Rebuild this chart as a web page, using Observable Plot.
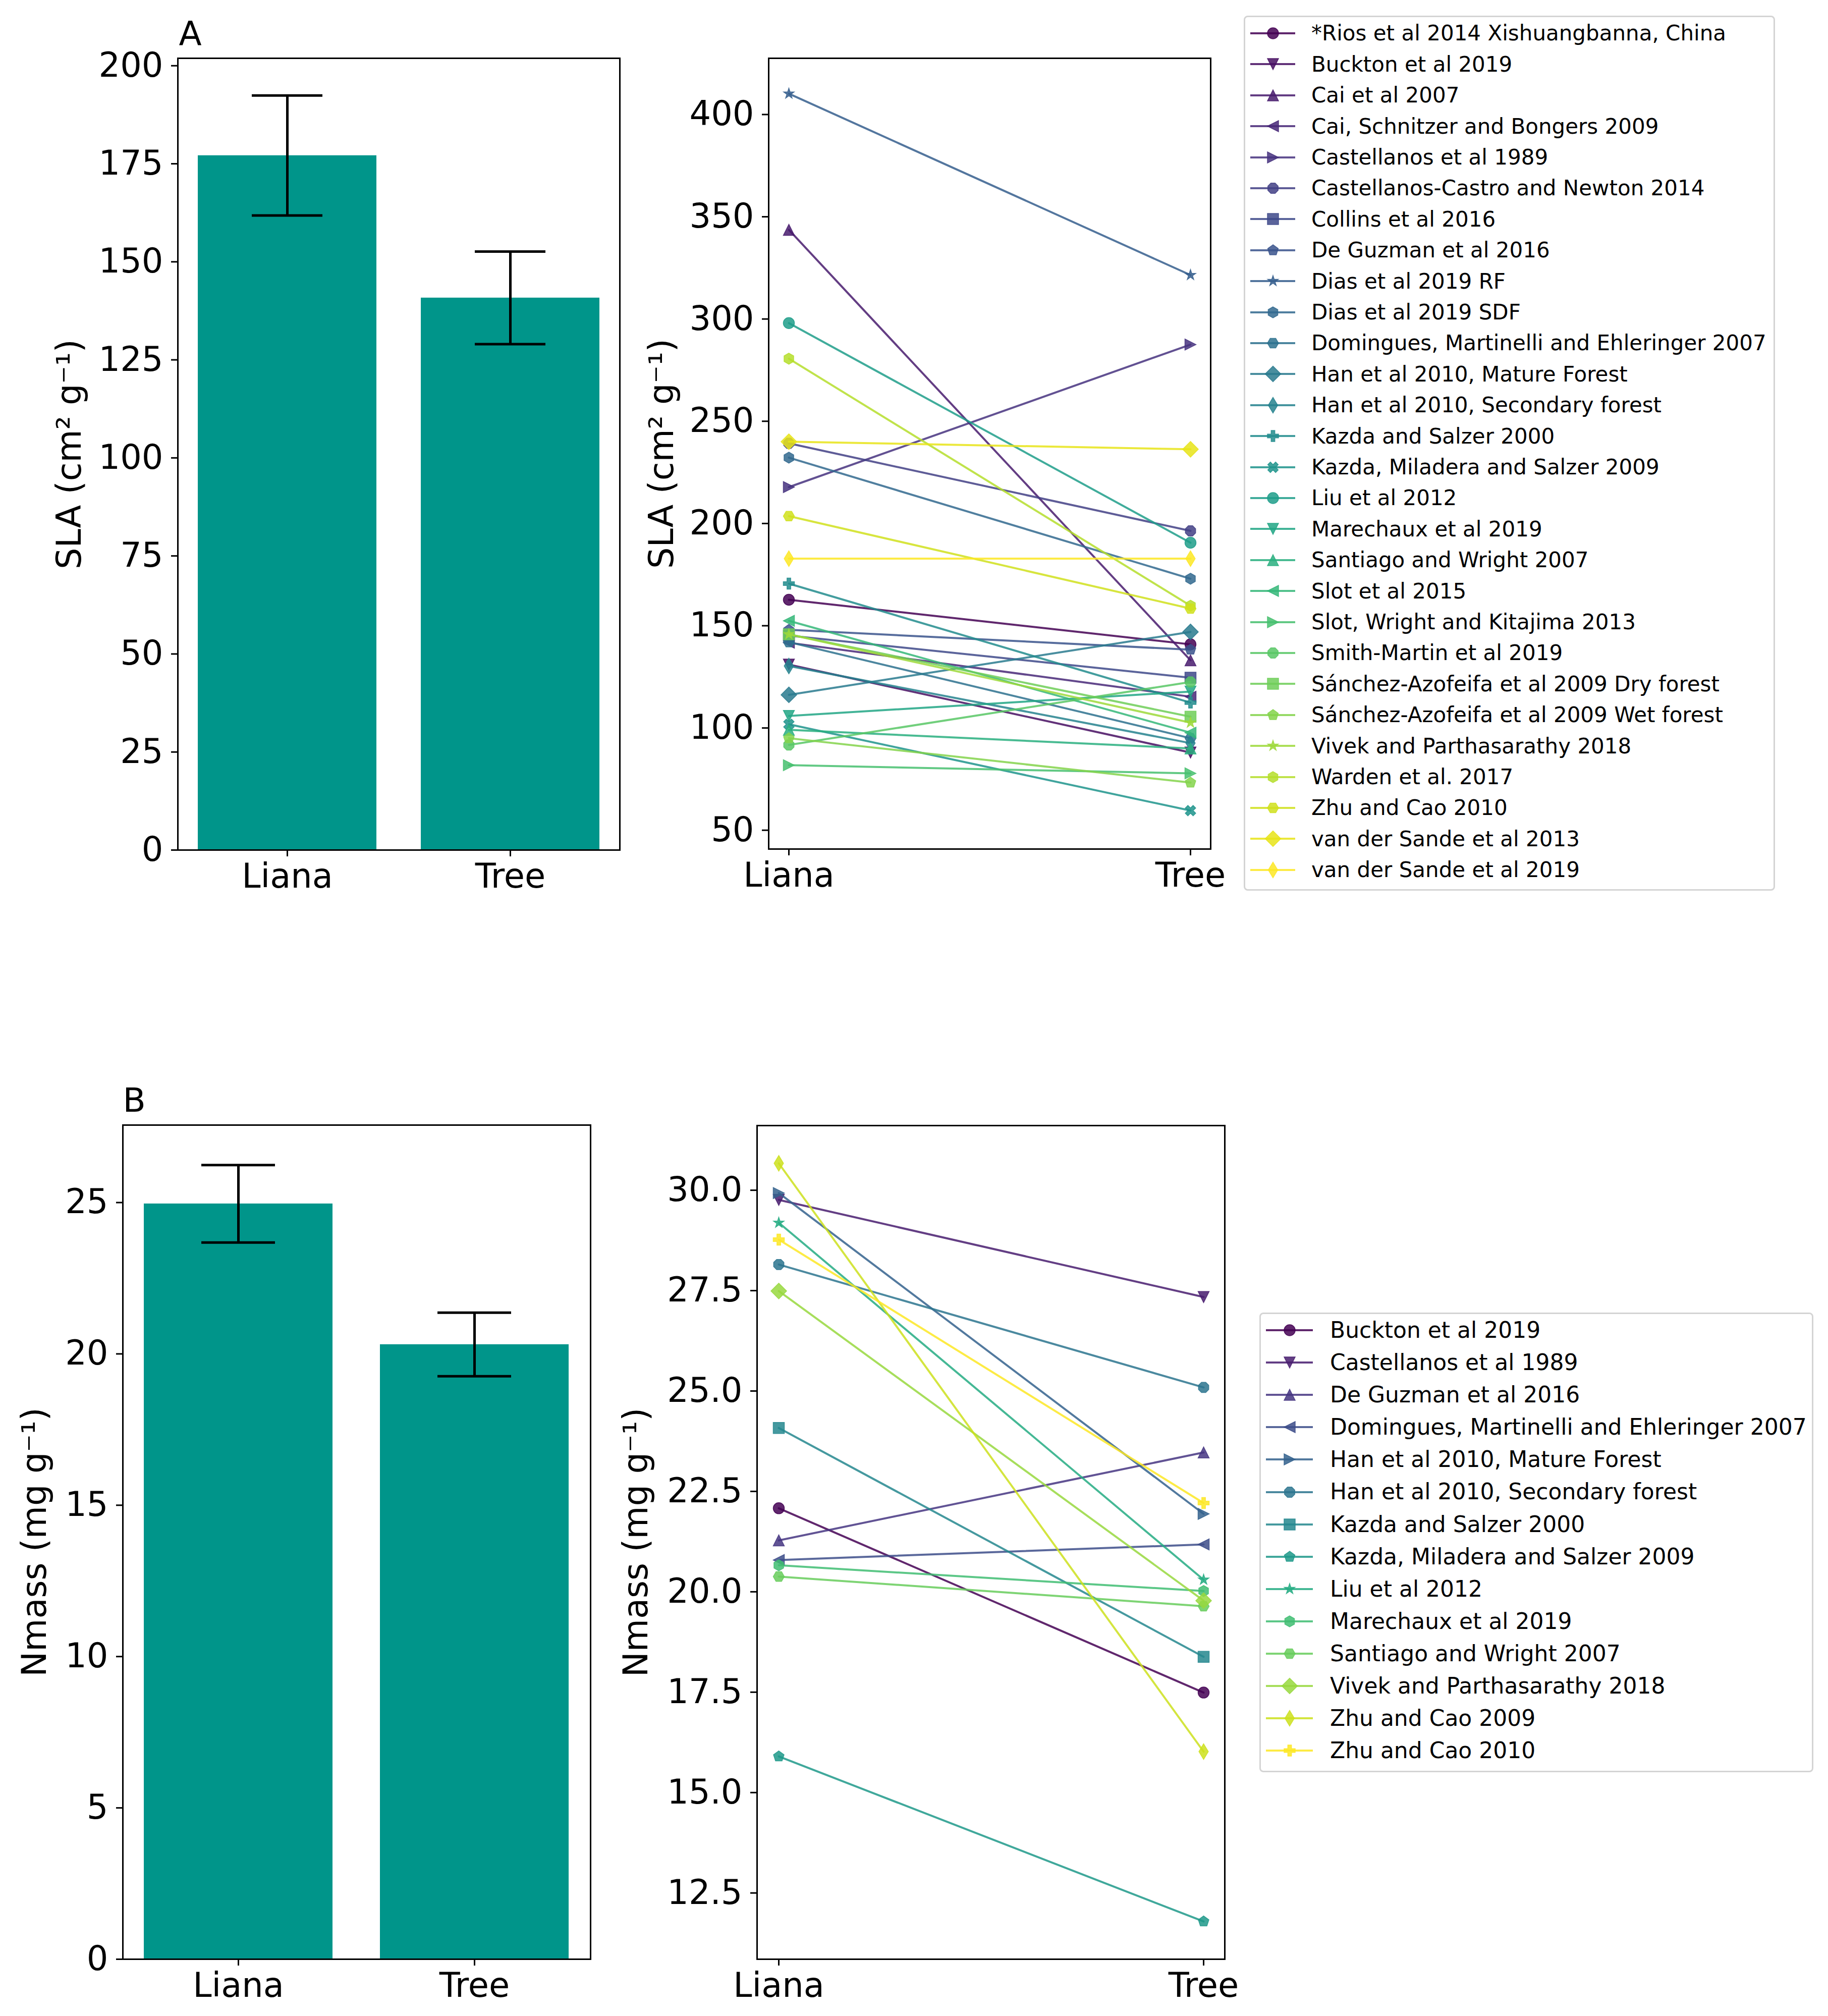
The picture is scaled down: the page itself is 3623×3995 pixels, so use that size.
<!DOCTYPE html>
<html>
<head>
<meta charset="utf-8">
<script src="https://cdn.jsdelivr.net/npm/d3@7"></script>
<script src="https://cdn.jsdelivr.net/npm/@observablehq/plot@0.6"></script>
<style>
  html, body { margin: 0; padding: 0; background: #ffffff; }
  #fig { position: relative; width: 3623px; height: 3995px; background: #ffffff; font-family: "DejaVu Sans", sans-serif; overflow: hidden; }
  .panel { position: absolute; }
  .panel svg { max-width: none !important; overflow: visible; }
  .legend { position: absolute; box-sizing: border-box; border: 3px solid #d4d4d4; border-radius: 8px; background: #ffffff; }
  .legend .lab { position: absolute; white-space: nowrap; color: #000; font-family: "DejaVu Sans", sans-serif; }
</style>
</head>
<body>
<div id="fig"></div>
<script>
// ---------------- data ----------------
const groups = ["Liana", "Tree"];

const slaMean = [177.1, 140.8];
const slaErr = [15.3, 11.8];
const nmassMean = [24.96, 20.31];
const nmassErr = [1.28, 1.05];

const slaStudies = [
  "*Rios et al 2014 Xishuangbanna, China",
  "Buckton et al 2019",
  "Cai et al 2007",
  "Cai, Schnitzer and Bongers 2009",
  "Castellanos et al 1989",
  "Castellanos-Castro and Newton 2014",
  "Collins et al 2016",
  "De Guzman et al 2016",
  "Dias et al 2019 RF",
  "Dias et al 2019 SDF",
  "Domingues, Martinelli and Ehleringer 2007",
  "Han et al 2010, Mature Forest",
  "Han et al 2010, Secondary forest",
  "Kazda and Salzer 2000",
  "Kazda, Miladera and Salzer 2009",
  "Liu et al 2012",
  "Marechaux et al 2019",
  "Santiago and Wright 2007",
  "Slot et al 2015",
  "Slot, Wright and Kitajima 2013",
  "Smith-Martin et al 2019",
  "Sánchez-Azofeifa et al 2009 Dry forest",
  "Sánchez-Azofeifa et al 2009 Wet forest",
  "Vivek and Parthasarathy 2018",
  "Warden et al. 2017",
  "Zhu and Cao 2010",
  "van der Sande et al 2013",
  "van der Sande et al 2019"
];
const slaLiana = [162.7, 131.0, 343.6, 141.7, 217.8, 239.2, 145.2, 148.0, 410.2, 232.2, 142.0, 116.2, 130.3, 170.6, 101.8, 298.0, 105.9, 99.1, 152.4, 81.8, 91.7, 145.8, 95.0, 145.8, 280.6, 203.6, 240.0, 182.8];
const slaTree  = [140.9,  88.0, 133.1, 115.3, 287.5, 196.4, 124.6, 138.3, 321.5, 173.0,  95.0, 147.0,  92.6, 112.4,  59.6, 190.6, 117.8, 90.0,  97.7, 77.8, 122.5, 105.5, 73.3, 102.6, 159.8, 158.4, 236.3, 182.8];

const nmassStudies = [
  "Buckton et al 2019",
  "Castellanos et al 1989",
  "De Guzman et al 2016",
  "Domingues, Martinelli and Ehleringer 2007",
  "Han et al 2010, Mature Forest",
  "Han et al 2010, Secondary forest",
  "Kazda and Salzer 2000",
  "Kazda, Miladera and Salzer 2009",
  "Liu et al 2012",
  "Marechaux et al 2019",
  "Santiago and Wright 2007",
  "Vivek and Parthasarathy 2018",
  "Zhu and Cao 2009",
  "Zhu and Cao 2010"
];
const nmassLiana = [22.08, 29.76, 21.28, 20.79, 29.93, 28.15, 24.08, 15.90, 29.19, 20.66, 20.38, 27.49, 30.67, 28.77];
const nmassTree  = [17.49, 27.34, 23.47, 21.18, 21.94, 25.09, 18.38, 11.79, 20.30, 20.02, 19.64, 19.78, 16.02, 22.21];

const slaBarTicks = [0, 25, 50, 75, 100, 125, 150, 175, 200];
const slaLineTicks = [50, 100, 150, 200, 250, 300, 350, 400];
const nmassBarTicks = [0, 5, 10, 15, 20, 25];
const nmassLineTicks = [12.5, 15, 17.5, 20, 22.5, 25, 27.5, 30];

const markerCodes = ["o", "v", "^", "<", ">", "8", "s", "p", "*", "h", "H", "D", "d", "P", "X"];

// ---------------- styling ----------------
const barColor = "#00958a";
const FONT = "DejaVu Sans";
const TICK_FS = 67;
const ALPHA = 0.85;
const MR = 11;      // marker radius (half of marker size)
const LW = 4;       // line width

// matplotlib-like marker shapes
function drawMarker(ctx, code, r) {
  const poly = pts => { pts.forEach(([x, y], i) => i ? ctx.lineTo(x, y) : ctx.moveTo(x, y)); ctx.closePath(); };
  const reg = (n, R, rot) => poly(d3.range(n).map(i => {
    const a = (90 + rot + 360 * i / n) * Math.PI / 180;
    return [R * Math.cos(a), -R * Math.sin(a)];
  }));
  switch (code) {
    case "o": ctx.moveTo(r, 0); ctx.arc(0, 0, r, 0, 2 * Math.PI); break;
    case "^": poly([[0, -r], [-r, r], [r, r]]); break;
    case "v": poly([[0, r], [-r, -r], [r, -r]]); break;
    case "<": poly([[-r, 0], [r, -r], [r, r]]); break;
    case ">": poly([[r, 0], [-r, -r], [-r, r]]); break;
    case "8": reg(8, r, 22.5); break;
    case "s": poly([[-r, -r], [r, -r], [r, r], [-r, r]]); break;
    case "p": reg(5, r, 0); break;
    case "*": {
      const pts = [];
      for (let i = 0; i < 10; i++) {
        const a = (90 + 36 * i) * Math.PI / 180;
        const R = i % 2 ? r * 0.381966 : r;
        pts.push([R * Math.cos(a), -R * Math.sin(a)]);
      }
      poly(pts); break;
    }
    case "h": reg(6, r, 0); break;
    case "H": reg(6, r, 30); break;
    case "D": { const q = r * Math.SQRT2; poly([[0, -q], [q, 0], [0, q], [-q, 0]]); break; }
    case "d": { const q = r * Math.SQRT2; poly([[0, -q], [0.6 * q, 0], [0, q], [-0.6 * q, 0]]); break; }
    case "P": case "X": {
      const base = [[-1,-3],[1,-3],[1,-1],[3,-1],[3,1],[1,1],[1,3],[-1,3],[-1,1],[-3,1],[-3,-1],[-1,-1]]
        .map(([x, y]) => [x * r / 3, y * r / 3]);
      const ang = code === "X" ? Math.PI / 4 : 0;
      poly(base.map(([x, y]) => [x * Math.cos(ang) - y * Math.sin(ang), x * Math.sin(ang) + y * Math.cos(ang)]));
      break;
    }
  }
}
const markerSymbol = code => ({ draw(ctx, size) { drawMarker(ctx, code, Math.sqrt(size / Math.PI)); } });
const markerPath = (code, r) => { const p = d3.path(); drawMarker(p, code, r); return p.toString(); };

const fig = document.getElementById("fig");

function place(chart, frame, m) {
  const wrap = document.createElement("div");
  wrap.className = "panel";
  wrap.style.left = (frame.left - m.left) + "px";
  wrap.style.top = (frame.top - m.top) + "px";
  wrap.appendChild(chart);
  fig.appendChild(wrap);
}

function commonAxes({yTicks, tickFormat, yLabel, labelOffset}) {
  return [
    Plot.axisX({tickSize: 13, tickPadding: 14, strokeWidth: 3, label: null, fontSize: TICK_FS}),
    Plot.axisY({ticks: yTicks, tickFormat, tickSize: 13, tickPadding: 16, strokeWidth: 3,
      label: yLabel, labelAnchor: "center", labelArrow: "none", labelOffset, fontSize: TICK_FS}),
    Plot.frame({stroke: "black", strokeWidth: 3})
  ];
}

function barPanel({means, errs, yDomain, yTicks, yLabel, tag, tagDx, frame, labelOffset, capInset}) {
  const rows = groups.map((g, i) => ({group: g, mean: means[i], lo: means[i] - errs[i], hi: means[i] + errs[i]}));
  const m = {left: 340, right: 20, top: 110, bottom: 130};
  const chart = Plot.plot({
    width: frame.right - frame.left + m.left + m.right,
    height: frame.bottom - frame.top + m.top + m.bottom,
    marginLeft: m.left, marginRight: m.right, marginTop: m.top, marginBottom: m.bottom,
    style: {fontFamily: FONT, fontSize: TICK_FS + "px", color: "black", background: "transparent", overflow: "visible"},
    x: {type: "band", domain: groups, paddingInner: 0.2, paddingOuter: 0.09},
    y: {domain: yDomain},
    marks: [
      Plot.barY(rows, {x: "group", y: "mean", fill: barColor}),
      Plot.ruleX(rows, {x: "group", y1: "lo", y2: "hi", stroke: "black", strokeWidth: 5}),
      Plot.tickY(rows, {x: "group", y: "lo", stroke: "black", strokeWidth: 5, insetLeft: capInset, insetRight: capInset}),
      Plot.tickY(rows, {x: "group", y: "hi", stroke: "black", strokeWidth: 5, insetLeft: capInset, insetRight: capInset}),
      ...commonAxes({yTicks, yLabel, labelOffset}),
      Plot.text([tag], {frameAnchor: "top-left", textAnchor: "start", lineAnchor: "bottom", dx: tagDx, dy: -27, fontSize: 66, fill: "black"})
    ]
  });
  place(chart, frame, m);
}

function linePanel({studies, liana, tree, yDomain, yTicks, tickFormat, yLabel, frame, labelOffset}) {
  const colors = studies.map((_, i) => d3.interpolateViridis(i / (studies.length - 1)));
  const symbols = studies.map((_, i) => markerSymbol(markerCodes[i % markerCodes.length]));
  const rows = studies.flatMap((s, i) => [
    {study: s, group: groups[0], value: liana[i]},
    {study: s, group: groups[1], value: tree[i]}
  ]);
  const marks = [];
  studies.forEach(s => {
    const d = rows.filter(r => r.study === s);
    marks.push(Plot.line(d, {x: "group", y: "value", stroke: "study", strokeWidth: LW, strokeOpacity: ALPHA}));
    marks.push(Plot.dot(d, {x: "group", y: "value", symbol: "study", fill: "study", stroke: "study",
      r: MR, fillOpacity: ALPHA, strokeOpacity: ALPHA, strokeWidth: 1.5}));
  });
  const m = {left: 340, right: 20, top: 110, bottom: 130};
  const chart = Plot.plot({
    width: frame.right - frame.left + m.left + m.right,
    height: frame.bottom - frame.top + m.top + m.bottom,
    marginLeft: m.left, marginRight: m.right, marginTop: m.top, marginBottom: m.bottom,
    style: {fontFamily: FONT, fontSize: TICK_FS + "px", color: "black", background: "transparent", overflow: "visible"},
    x: {type: "point", domain: groups, padding: 0.05},
    y: {domain: yDomain},
    color: {domain: studies, range: colors},
    symbol: {domain: studies, range: symbols},
    marks: [...marks, ...commonAxes({yTicks, tickFormat, yLabel, labelOffset})]
  });
  place(chart, frame, m);
  return colors;
}

function legend({studies, colors, box, firstCenter, step, markerX, lineX1, lineX2, textX, fontSize}) {
  const div = document.createElement("div");
  div.className = "legend";
  Object.assign(div.style, {
    left: box.left + "px", top: box.top + "px",
    width: (box.right - box.left) + "px", height: (box.bottom - box.top) + "px"
  });
  const B = 3;
  studies.forEach((s, i) => {
    const cy = firstCenter + i * step - box.top - B;
    const code = markerCodes[i % markerCodes.length];
    const svg = d3.create("svg")
      .attr("width", lineX2 - box.left + 10).attr("height", 60)
      .style("position", "absolute").style("left", "0px").style("top", (cy - 30) + "px").style("overflow", "visible");
    svg.append("line")
      .attr("x1", lineX1 - box.left - B).attr("x2", lineX2 - box.left - B).attr("y1", 30).attr("y2", 30)
      .attr("stroke", colors[i]).attr("stroke-opacity", ALPHA).attr("stroke-width", LW);
    svg.append("path")
      .attr("d", markerPath(code, MR))
      .attr("transform", `translate(${markerX - box.left - B},30)`)
      .attr("fill", colors[i]).attr("fill-opacity", ALPHA)
      .attr("stroke", colors[i]).attr("stroke-opacity", ALPHA).attr("stroke-width", 1.5);
    div.appendChild(svg.node());
    const lab = document.createElement("div");
    lab.className = "lab";
    lab.textContent = s;
    Object.assign(lab.style, {
      left: (textX - box.left - B) + "px", top: (cy - step / 2) + "px",
      height: step + "px", lineHeight: step + "px", fontSize: fontSize + "px"
    });
    div.appendChild(lab);
  });
  fig.appendChild(div);
}

// ---------------- panel A ----------------
barPanel({
  means: slaMean, errs: slaErr, yDomain: [0, 201.9], yTicks: slaBarTicks,
  yLabel: "SLA (cm² g⁻¹)", tag: "A", tagDx: 2,
  frame: {left: 352, top: 115, right: 1228, bottom: 1684}, labelOffset: 240, capInset: 107
});
const slaColors = linePanel({
  studies: slaStudies, liana: slaLiana, tree: slaTree, yDomain: [40.8, 427.5], yTicks: slaLineTicks,
  tickFormat: d3.format("d"), yLabel: "SLA (cm² g⁻¹)",
  frame: {left: 1523, top: 115, right: 2399, bottom: 1682}, labelOffset: 237
});
legend({
  studies: slaStudies, colors: slaColors,
  box: {left: 2465, top: 31, right: 3518, bottom: 1765},
  firstCenter: 66, step: 61.4, markerX: 2523, lineX1: 2478, lineX2: 2567, textX: 2599, fontSize: 42
});

// ---------------- panel B ----------------
barPanel({
  means: nmassMean, errs: nmassErr, yDomain: [0, 27.56], yTicks: nmassBarTicks,
  yLabel: "Nmass (mg g⁻¹)", tag: "B", tagDx: 0,
  frame: {left: 243, top: 2229, right: 1170, bottom: 3882}, labelOffset: 200, capInset: 114
});
const nmassColors = linePanel({
  studies: nmassStudies, liana: nmassLiana, tree: nmassTree, yDomain: [10.85, 31.61], yTicks: nmassLineTicks,
  tickFormat: d3.format(".1f"), yLabel: "Nmass (mg g⁻¹)",
  frame: {left: 1500, top: 2230, right: 2427, bottom: 3882}, labelOffset: 265
});
legend({
  studies: nmassStudies, colors: nmassColors,
  box: {left: 2496, top: 2601, right: 3594, bottom: 3512},
  firstCenter: 2636, step: 64.1, markerX: 2556, lineX1: 2509, lineX2: 2602, textX: 2636, fontSize: 44
});
</script>
</body>
</html>
